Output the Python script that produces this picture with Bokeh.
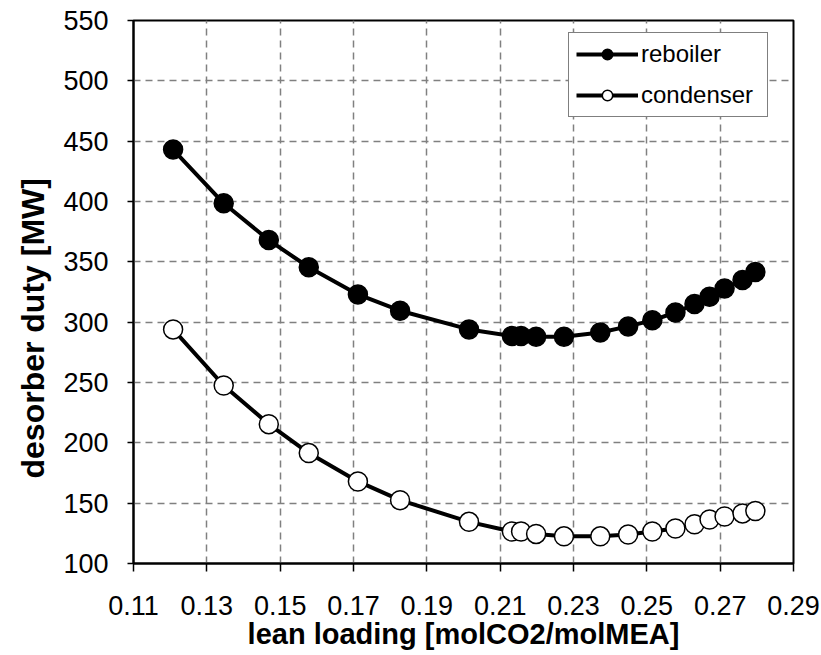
from bokeh.plotting import figure
from bokeh.models import FixedTicker, PrintfTickFormatter, Legend, LegendItem, Range1d, Title
from bokeh.embed import file_html
from bokeh.resources import INLINE

# data
lean_loading = [0.1208, 0.1346, 0.1469, 0.1578, 0.1712, 0.1827, 0.2015, 0.2132, 0.2157,
                0.2198, 0.2274, 0.2373, 0.2449, 0.2515, 0.2578, 0.2630, 0.2671, 0.2712,
                0.2761, 0.2796]
reboiler = [443.0, 398.5, 368.0, 345.5, 323.0, 309.5, 294.0, 288.5, 288.5, 288.0, 288.0,
            291.5, 296.5, 301.5, 308.0, 315.0, 321.0, 328.0, 335.0, 341.5]
condenser = [294.0, 247.5, 215.5, 191.5, 168.0, 152.5, 134.5, 126.5, 126.5, 124.5, 122.5,
             122.5, 124.0, 126.5, 129.0, 132.5, 136.5, 139.0, 141.5, 143.5]
x_ticks = [0.11, 0.13, 0.15, 0.17, 0.19, 0.21, 0.23, 0.25, 0.27, 0.29]
y_ticks = [100, 150, 200, 250, 300, 350, 400, 450, 500, 550]
x_title = "lean loading [molCO2/molMEA]"
y_title = "desorber duty [MW]"

FONT = "Liberation Sans"

p = figure(width=821, height=655, output_backend="svg", toolbar_location=None,
           x_range=Range1d(0.11, 0.29), y_range=Range1d(100, 550),
           min_border_left=133, min_border_right=28, min_border_top=20, min_border_bottom=92)
p.background_fill_color = "white"
p.border_fill_color = "white"
p.outline_line_color = "black"
p.outline_line_width = 2

for ax, ticks, fmt in ((p.xaxis[0], x_ticks, "%.2f"), (p.yaxis[0], y_ticks, "%d")):
    ax.ticker = FixedTicker(ticks=ticks)
    ax.formatter = PrintfTickFormatter(format=fmt)
    ax.axis_line_color = "black"
    ax.axis_line_width = 2
    ax.major_tick_line_color = "black"
    ax.major_tick_line_width = 1.5
    ax.major_tick_in = 0
    ax.minor_tick_line_color = None
    ax.major_label_text_font = FONT
    ax.major_label_text_font_size = "27px"
    ax.major_label_text_color = "black"
    ax.axis_label_text_font = FONT
    ax.axis_label_text_font_style = "bold"
    ax.axis_label_text_color = "black"

p.xaxis.axis_label = x_title
p.xaxis.major_tick_out = 8
p.yaxis.major_tick_out = 6
p.xaxis.major_label_standoff = 24
p.yaxis.major_label_standoff = 19
p.xaxis.axis_label_text_font_size = "29px"
p.xaxis.axis_label_standoff = 0

# y axis title as a side title, anchored at its start so it sits a bit below centre
ytitle = Title(text=y_title, align="left", offset=85, standoff=19,
               text_font=FONT, text_font_style="bold", text_font_size="32px",
               text_color="black")
p.add_layout(ytitle, "left")

for g in (p.xgrid[0], p.ygrid[0]):
    g.grid_line_color = "#808080"
    g.grid_line_width = 1.5
    g.grid_line_dash = "7 5"
p.xgrid.ticker = FixedTicker(ticks=x_ticks)
p.ygrid.ticker = FixedTicker(ticks=y_ticks)

r1l = p.line(lean_loading, reboiler, line_color="black", line_width=4)
r1m = p.scatter(lean_loading, reboiler, size=19, fill_color="black", line_color="black", line_width=1.5)
r2l = p.line(lean_loading, condenser, line_color="black", line_width=4)
r2m = p.scatter(lean_loading, condenser, size=19, fill_color="white", line_color="black", line_width=1.5)

legend = Legend(items=[LegendItem(label="reboiler", renderers=[r1l, r1m]),
                       LegendItem(label="condenser", renderers=[r2l, r2m])],
                location=(435, 446))
legend.label_text_font = FONT
legend.label_text_font_size = "24px"
legend.label_text_color = "black"
legend.glyph_width = 62
legend.glyph_height = 26
legend.label_height = 26
legend.label_width = 119
legend.label_standoff = 3
legend.spacing = 13
legend.padding = 7
legend.margin = 0
legend.border_line_color = "black"
legend.border_line_width = 1.5
legend.background_fill_color = "white"
legend.background_fill_alpha = 1.0
p.add_layout(legend, "center")

open("out.html", "w").write(file_html(p, INLINE))
